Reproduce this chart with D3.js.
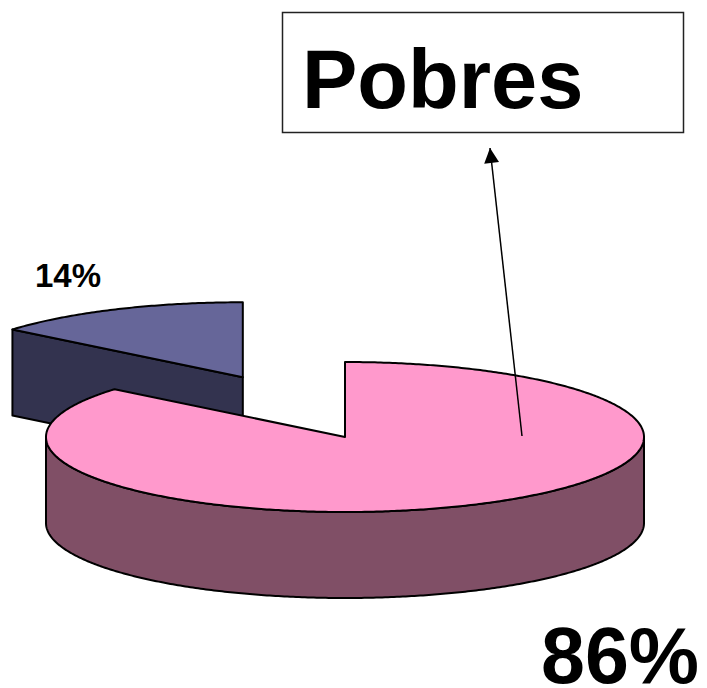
<!DOCTYPE html>
<html>
<head>
<meta charset="utf-8">
<script src="https://cdn.jsdelivr.net/npm/d3@7"></script>
<style>
  body { margin: 0; background: #fff; }
  text { font-family: Arial, "Liberation Sans", sans-serif; font-weight: bold; }
</style>
</head>
<body>
<div id="chart"></div>
<script>
// data
const categories = ["Pobres", "No pobres"];
const shares = [86, 14];
const labels = ["86%", "14%"];
const topColors = ["#FF99CC", "#666699"];
const sideColors = ["#804F66", "#33334F"];
const exploded = [false, true];

const width = 707, height = 688;
const cx = 345, cy = 437;   // pie centre
const rx = 299, ry = 75;    // ellipse radii of top face
const depth = 86;           // thickness
const explodeX = 240, explodeY = 66;

const svg = d3.select("#chart").append("svg")
    .attr("width", width)
    .attr("height", height);

const pie = d3.pie().sort(null).startAngle(0).endAngle(2 * Math.PI);
const arcs = pie(shares);

// point on the ellipse at angle a (clockwise from 12 o'clock)
function pt(a, ox, oy, dz) {
    return [ox + rx * Math.sin(a), oy - ry * Math.cos(a) + (dz || 0)];
}
function arcPoints(a0, a1, ox, oy, dz) {
    const n = Math.max(2, Math.ceil((a1 - a0) / 0.01));
    return d3.range(n + 1).map(i => pt(a0 + (a1 - a0) * i / n, ox, oy, dz));
}
const line = d3.line();

const slices = arcs.map((d, i) => {
    const mid = (d.startAngle + d.endAngle) / 2;
    const ox = cx + (exploded[i] ? explodeX * Math.sin(mid) : 0);
    const oy = cy - (exploded[i] ? explodeY * Math.cos(mid) : 0);
    return { d, i, ox, oy };
});

// draw the exploded (back) slice first
const order = slices.slice().sort((a, b) => (exploded[b.i] ? 1 : 0) - (exploded[a.i] ? 1 : 0));

order.forEach(s => {
    const { d, i, ox, oy } = s;
    const g = svg.append("g")
        .attr("stroke", "#000")
        .attr("stroke-width", 2)
        .attr("stroke-linejoin", "round");

    // radial walls facing the viewer
    const walls = [];
    if (Math.sin(d.startAngle) < -1e-6) walls.push(d.startAngle);
    if (Math.sin(d.endAngle) > 1e-6) walls.push(d.endAngle);
    walls.forEach(a => {
        const p = pt(a, ox, oy);
        const poly = [[ox, oy], p, [p[0], p[1] + depth], [ox, oy + depth]];
        g.append("path")
            .attr("d", line(poly) + "Z")
            .attr("fill", sideColors[i]);
    });

    // outer wall, front half only (pi/2 .. 3pi/2)
    const f0 = Math.max(d.startAngle, Math.PI / 2);
    const f1 = Math.min(d.endAngle, 3 * Math.PI / 2);
    if (f1 > f0) {
        const top = arcPoints(f0, f1, ox, oy, 0);
        const bottom = arcPoints(f0, f1, ox, oy, depth).reverse();
        g.append("path")
            .attr("d", line(top.concat(bottom)) + "Z")
            .attr("fill", sideColors[i]);
    }

    // top face
    const topPts = [[ox, oy]].concat(arcPoints(d.startAngle, d.endAngle, ox, oy, 0));
    g.append("path")
        .attr("d", line(topPts) + "Z")
        .attr("fill", topColors[i]);
});

// percentage labels
svg.append("text")
    .attr("x", 35).attr("y", 287)
    .style("font-size", "33px")
    .text(labels[1]);

svg.append("text")
    .attr("x", 541).attr("y", 683)
    .style("font-size", "79px")
    .text(labels[0]);

// callout box
svg.append("rect")
    .attr("x", 282.5).attr("y", 12.5)
    .attr("width", 401).attr("height", 120)
    .attr("fill", "#fff")
    .attr("stroke", "#222")
    .attr("stroke-width", 1.5);

svg.append("text")
    .attr("x", 302).attr("y", 108)
    .style("font-size", "83px")
    .text(categories[0]);

// arrow from slice to box
svg.append("defs").append("marker")
    .attr("id", "head")
    .attr("viewBox", "0 0 10 10")
    .attr("refX", 10).attr("refY", 5)
    .attr("markerWidth", 18).attr("markerHeight", 15)
    .attr("markerUnits", "userSpaceOnUse")
    .attr("orient", "auto")
    .append("path")
    .attr("d", "M0,0L10,5L0,10Z")
    .attr("fill", "#000");

svg.append("line")
    .attr("x1", 522).attr("y1", 436)
    .attr("x2", 490).attr("y2", 148)
    .attr("stroke", "#000")
    .attr("stroke-width", 1.5)
    .attr("marker-end", "url(#head)");
</script>
</body>
</html>
